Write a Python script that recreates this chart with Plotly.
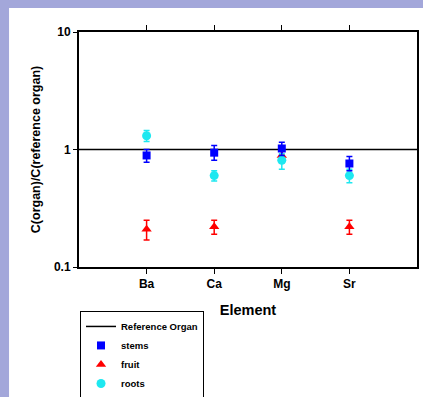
import plotly.graph_objects as go

elements = ["Ba", "Ca", "Mg", "Sr"]
x_idx = [0, 1, 2, 3]

stems = [0.89, 0.94, 1.02, 0.76]
stems_hi = [0.11, 0.14, 0.13, 0.11]
stems_lo = [0.11, 0.13, 0.13, 0.10]

fruit = [0.21, 0.22, 0.89, 0.22]
fruit_hi = [0.04, 0.03, 0.11, 0.03]
fruit_lo = [0.04, 0.03, 0.09, 0.03]

roots = [1.31, 0.60, 0.81, 0.60]
roots_hi = [0.14, 0.06, 0.11, 0.08]
roots_lo = [0.14, 0.06, 0.13, 0.08]

ref_x = [-1, 4]
ref_y = [1, 1]

font = "Liberation Sans, Arial, sans-serif"

fig = go.Figure()
fig.add_trace(go.Scatter(x=ref_x, y=ref_y, mode="lines", name="<b>Reference Organ</b>",
                         line=dict(color="black", width=1.5)))
fig.add_trace(go.Scatter(x=x_idx, y=fruit, mode="markers", name="<b>fruit</b>",
                         marker=dict(symbol="triangle-up", size=9, color="#ff0000"),
                         error_y=dict(type="data", array=fruit_hi, arrayminus=fruit_lo,
                                      color="#ff0000", thickness=1.5, width=3),
                         showlegend=False))
fig.add_trace(go.Scatter(x=x_idx, y=roots, mode="markers", name="<b>roots</b>",
                         marker=dict(symbol="circle", size=9, color="#1ee8f0"),
                         error_y=dict(type="data", array=roots_hi, arrayminus=roots_lo,
                                      color="#1ee8f0", thickness=1.5, width=3),
                         showlegend=False))
fig.add_trace(go.Scatter(x=x_idx, y=stems, mode="markers", name="<b>stems</b>",
                         marker=dict(symbol="square", size=8, color="#0000ff"),
                         error_y=dict(type="data", array=stems_hi, arrayminus=stems_lo,
                                      color="#0000ff", thickness=1.5, width=3),
                         showlegend=False))
for nm, sym, col, sz in [("<b>stems</b>", "square", "#0000ff", 8),
                         ("<b>fruit</b>", "triangle-up", "#ff0000", 9),
                         ("<b>roots</b>", "circle", "#1ee8f0", 9)]:
    fig.add_trace(go.Scatter(x=[None], y=[None], mode="markers", name=nm,
                             marker=dict(symbol=sym, size=sz, color=col)))

fig.update_layout(
    width=423, height=397,
    margin=dict(l=79, r=6, t=32, b=130, autoexpand=False),
    paper_bgcolor="#a3a7da",
    plot_bgcolor="white",
    font=dict(family=font, color="black"),
    shapes=[dict(type="rect", xref="paper", yref="paper", x0=-0.207, x1=1.05,
                 y0=-0.6, y1=1.102, fillcolor="white", line=dict(width=0), layer="below")],
    legend=dict(x=0.003, y=-0.187, xanchor="left", yanchor="top",
                bordercolor="black", borderwidth=1, bgcolor="white",
                font=dict(size=9.5, family=font), tracegroupgap=0, itemwidth=30),
    xaxis=dict(range=[-1, 4], tickvals=x_idx, ticktext=["<b>%s</b>" % e for e in elements],
               showgrid=False, zeroline=False, showline=True, linecolor="black", linewidth=2,
               mirror="ticks", ticks="outside", ticklen=5, tickcolor="black",
               tickfont=dict(size=12, family=font),
               title=dict(text="<b>Element</b>", font=dict(size=14.5, family=font), standoff=14)),
    yaxis=dict(type="log", range=[-1, 1], tickvals=[0.1, 1, 10], ticktext=["<b>0.1</b>", "<b>1</b>", "<b>10</b>"],
               showgrid=False, zeroline=False, showline=True, linecolor="black", linewidth=2,
               mirror=True, ticks="outside", ticklen=4, tickcolor="black",
               tickfont=dict(size=12, family=font),
               title=dict(text="<b>C(organ)/C(reference organ)</b>", font=dict(size=12.5, family=font), standoff=11)),
)

fig.write_html("out.html", config={"displayModeBar": False},
               post_script="document.body.style.margin='0';document.body.style.background='#a3a7da';")
